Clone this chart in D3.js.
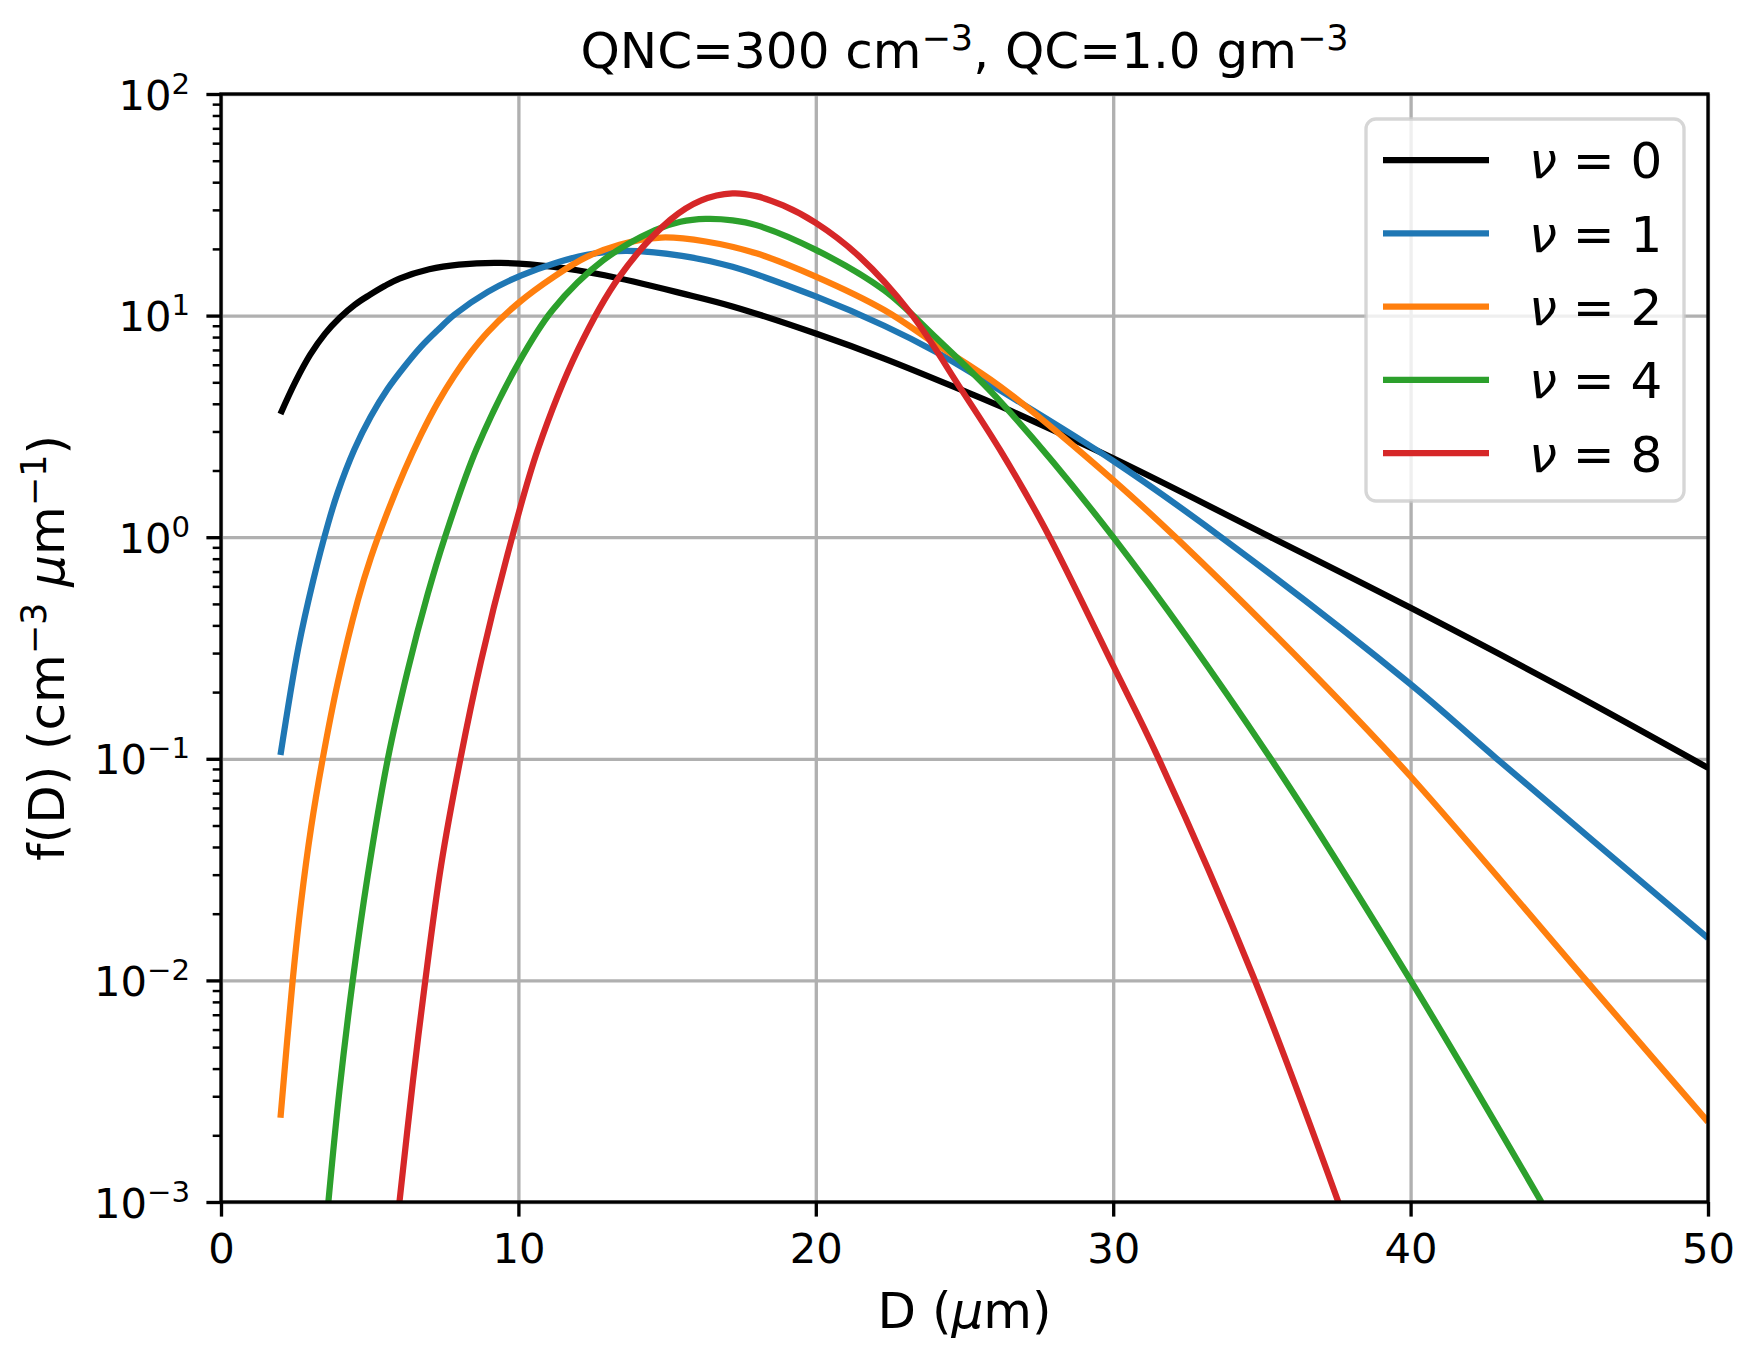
<!DOCTYPE html>
<html>
<head>
<meta charset="utf-8">
<script src="https://cdnjs.cloudflare.com/ajax/libs/d3/7.8.5/d3.min.js"></script>
<style>
  body { margin: 0; background: #fff; }
  text { font-family: "DejaVu Sans", sans-serif; fill: #000; }
</style>
</head>
<body>
<div id="chart"></div>
<script>
// diameters (um) and f(D) values, one pair per nu
var dNu0 = [2, 2.5, 3, 3.5, 4, 4.5, 5, 5.5, 6, 7, 8, 9.4, 11.2, 12.9, 15.5, 17.2, 20, 22.3, 24.9, 26.2, 30, 35.3, 40, 45.2, 50];
var fNu0 = [3.6, 5.02, 6.66, 8.29, 9.8, 11.2, 12.4, 13.6, 14.7, 16.2, 17.0, 17.3, 16.6, 15.2, 12.6, 11.0, 8.3, 6.4, 4.62, 3.9, 2.27, 1.0, 0.48, 0.206, 0.091];

var dNu1 = [2, 2.6, 3.1, 3.6, 3.92, 4.48, 5.04, 5.6, 6.17, 6.73, 7.29, 7.85, 8.97, 10.1, 11.2, 12.3, 13.6, 15.5, 17.2, 20, 22.3, 24, 26.2, 30, 33.8, 40, 42.9, 50];
var fNu1 = [0.104, 0.317, 0.637, 1.15, 1.585, 2.48, 3.51, 4.66, 5.89, 7.24, 8.61, 10.1, 12.8, 15.2, 17.2, 18.8, 19.6, 18.6, 16.6, 12.2, 9.0, 6.9, 4.6, 2.21, 0.962, 0.217, 0.1, 0.0155];

var dNu2 = [2, 2.41, 2.69, 3.03, 3.42, 3.92, 4.6, 5.04, 5.6, 6.17, 6.73, 7.29, 7.85, 8.41, 8.97, 10, 11.2, 12.3, 13.4, 14.8, 16.3, 18, 20, 22.3, 24, 26.2, 30, 32.25, 36.8, 40, 45.9, 50];
var fNu2 = [0.0024, 0.01, 0.0224, 0.049, 0.1, 0.219, 0.518, 0.809, 1.30, 2.0, 2.91, 4.05, 5.37, 6.85, 8.43, 11.4, 15.0, 18.4, 20.9, 22.5, 21.6, 19.1, 15.0, 10.6, 7.5, 4.79, 1.81, 0.955, 0.237, 0.0832, 0.01, 0.0023];

var dNu4 = [3.61, 3.98, 4.43, 4.93, 5.61, 6.28, 6.95, 7.53, 8.58, 10, 11.15, 12.86, 14.6, 15.45, 16.3, 17.2, 18, 20, 22.3, 24, 26.2, 30, 35.3, 40, 44.4];
var fNu4 = [0.001, 0.00316, 0.01, 0.0295, 0.1, 0.251, 0.553, 1.0, 2.48, 6.1, 10.6, 17.8, 24.3, 26.5, 27.3, 26.9, 25.6, 19.8, 13.0, 8.04, 4.1, 1.0, 0.1, 0.01, 0.001];

var dNu8 = [6.0, 6.45, 6.84, 7.4, 8.05, 8.74, 9.64, 10.65, 12.0, 13.4, 15.1, 16.15, 17.2, 18.0, 18.9, 20, 21.46, 23.2, 24.9, 26.2, 27.7, 30, 31.5, 34.7, 37.57];
var fNu8 = [0.001, 0.00348, 0.0093, 0.033, 0.1, 0.275, 0.841, 2.48, 7.0, 15.0, 27.0, 33.1, 35.6, 34.6, 31.4, 26.2, 18.5, 10.2, 4.62, 2.47, 1.10, 0.263, 0.102, 0.0105, 0.001];

var nuNames = ["0", "1", "2", "4", "8"];
var xTicks = [0, 10, 20, 30, 40, 50];
var yTicks = [1e-3, 1e-2, 1e-1, 1e0, 1e1, 1e2];
var yTickExp = ["\u22123", "\u22122", "\u22121", "0", "1", "2"];

var lineColors = ["#000000", "#1f77b4", "#ff7f0e", "#2ca02c", "#d62728"];

(function () {
    var W = 1750, H = 1361;
    var L = 221, R = 1708, T = 94, B = 1202;
    var lw = 3.33;

    var dList = [dNu0, dNu1, dNu2, dNu4, dNu8];
    var fList = [fNu0, fNu1, fNu2, fNu4, fNu8];
    var series = nuNames.map(function (n, i) {
        return dList[i].map(function (d, j) { return { d: d, f: fList[i][j] }; });
    });

    var svg = d3.select("#chart").append("svg")
        .attr("width", W).attr("height", H)
        .style("display", "block");
    svg.append("rect").attr("width", W).attr("height", H).attr("fill", "#fff");

    var x = d3.scaleLinear().domain([0, 50]).range([L, R]);
    var y = d3.scaleLog().domain([1e-3, 1e2]).range([B, T]);

    // grid
    var gx = svg.append("g").attr("transform", "translate(0," + B + ")")
        .call(d3.axisBottom(x).tickValues(xTicks).tickSize(-(B - T)).tickFormat(""));
    var gy = svg.append("g").attr("transform", "translate(" + L + ",0)")
        .call(d3.axisLeft(y).tickValues(yTicks).tickSize(-(R - L)).tickFormat(""));
    [gx, gy].forEach(function (g) {
        g.select(".domain").remove();
        g.selectAll("line").attr("stroke", "#b0b0b0").attr("stroke-width", lw);
    });

    // curves
    svg.append("clipPath").attr("id", "plotclip")
        .append("rect").attr("x", L).attr("y", T).attr("width", R - L).attr("height", B - T);

    var line = d3.line()
        .x(function (p) { return x(p.d); })
        .y(function (p) { return y(p.f); })
        .curve(d3.curveCatmullRom.alpha(0.5));

    svg.append("g").attr("clip-path", "url(#plotclip)")
        .selectAll("path").data(series).enter().append("path")
        .attr("d", line)
        .attr("fill", "none")
        .attr("stroke", function (s, i) { return lineColors[i]; })
        .attr("stroke-width", 6.25)
        .attr("stroke-linejoin", "round")
        .attr("stroke-linecap", "butt");

    // spines
    svg.append("rect").attr("x", L).attr("y", T).attr("width", R - L).attr("height", B - T)
        .attr("fill", "none").attr("stroke", "#000").attr("stroke-width", lw);

    // x axis
    var ax = svg.append("g").attr("transform", "translate(0," + B + ")")
        .call(d3.axisBottom(x).tickValues(xTicks).tickSize(14.6).tickSizeOuter(0).tickPadding(16.8));
    ax.select(".domain").remove();
    ax.selectAll("line").attr("stroke", "#000").attr("stroke-width", lw);
    ax.selectAll("text").attr("font-size", "41.7px").attr("font-family", "DejaVu Sans");

    // y axis, minor then major
    var minor = y.ticks().filter(function (v) {
        var e = Math.log10(v);
        return Math.abs(e - Math.round(e)) > 1e-6;
    });
    var ayMinor = svg.append("g").attr("transform", "translate(" + L + ",0)")
        .call(d3.axisLeft(y).tickValues(minor).tickSize(8.3).tickSizeOuter(0).tickFormat(""));
    ayMinor.select(".domain").remove();
    ayMinor.selectAll("line").attr("stroke", "#000").attr("stroke-width", 2.5);

    var ay = svg.append("g").attr("transform", "translate(" + L + ",0)")
        .call(d3.axisLeft(y).tickValues(yTicks).tickSize(14.6).tickSizeOuter(0).tickPadding(16.4));
    ay.select(".domain").remove();
    ay.selectAll("line").attr("stroke", "#000").attr("stroke-width", lw);
    ay.selectAll("text")
        .attr("font-size", "41.7px").attr("font-family", "DejaVu Sans")
        .attr("dy", "0.36em")
        .each(function (v, i) {
            var t = d3.select(this);
            t.text("10");
            t.append("tspan").attr("dy", -16).attr("font-size", "29.2px").text(yTickExp[i]);
        });

    // title
    var title = svg.append("text").attr("x", (L + R) / 2).attr("y", 68)
        .attr("text-anchor", "middle").attr("font-size", "50px");
    title.append("tspan").text("QNC=300 cm");
    title.append("tspan").attr("dy", -18).attr("font-size", "35px").text("\u22123");
    title.append("tspan").attr("dy", 18).text(", QC=1.0 gm");
    title.append("tspan").attr("dy", -18).attr("font-size", "35px").text("\u22123");

    // x label
    var xl = svg.append("text").attr("x", (L + R) / 2).attr("y", 1328)
        .attr("text-anchor", "middle").attr("font-size", "50px");
    xl.append("tspan").text("D (");
    xl.append("tspan").attr("font-style", "italic").text("\u03bc");
    xl.append("tspan").text("m)");

    // y label
    var yl = svg.append("text")
        .attr("transform", "translate(64," + (T + B) / 2 + ") rotate(-90)")
        .attr("text-anchor", "middle").attr("font-size", "50px");
    yl.append("tspan").text("f(D) (cm");
    yl.append("tspan").attr("dy", -18).attr("font-size", "35px").text("\u22123");
    yl.append("tspan").attr("dy", 18).text(" ");
    yl.append("tspan").attr("font-style", "italic").text("\u03bc");
    yl.append("tspan").text("m");
    yl.append("tspan").attr("dy", -18).attr("font-size", "35px").text("\u22121");
    yl.append("tspan").attr("dy", 18).text(")");

    // legend
    var lg = svg.append("g");
    lg.append("rect").attr("x", 1366).attr("y", 119).attr("width", 318).attr("height", 382)
        .attr("rx", 10).attr("ry", 10)
        .attr("fill", "#fff").attr("fill-opacity", 0.8)
        .attr("stroke", "#cccccc").attr("stroke-opacity", 0.8).attr("stroke-width", lw);

    var rows = lg.selectAll("g.row").data(nuNames).enter().append("g")
        .attr("class", "row")
        .attr("transform", function (n, i) { return "translate(0," + (160 + i * 73.3) + ")"; });
    rows.append("line").attr("x1", 1383).attr("x2", 1489)
        .attr("stroke", function (n, i) { return lineColors[i]; })
        .attr("stroke-width", 6.25);
    var lt = rows.append("text").attr("x", 1529).attr("y", 18.3).attr("font-size", "50px");
    lt.append("tspan").attr("font-style", "italic").text("\u03bd");
    lt.append("tspan").text(function (n) { return " = " + n; });
})();
</script>
</body>
</html>
